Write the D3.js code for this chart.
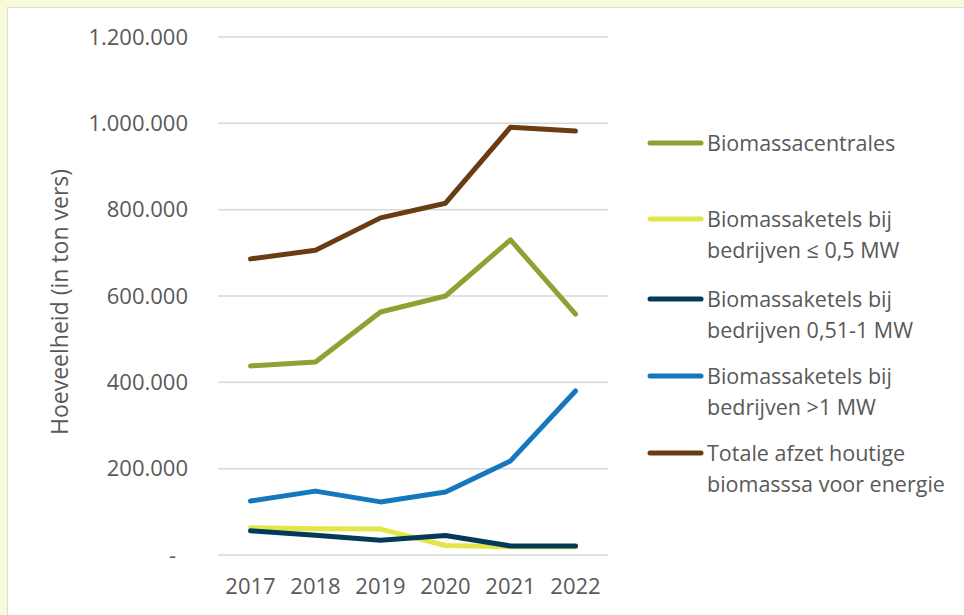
<!DOCTYPE html>
<html>
<head>
<meta charset="utf-8">
<script src="https://cdn.jsdelivr.net/npm/d3@7"></script>
<style>
  body { margin: 0; background: #f9f9dc; }
  text { font-family: "Open Sans", "Noto Sans", sans-serif; fill: #595959; }
</style>
</head>
<body>
<div id="chart"></div>
<script>
const w = 964;
const h = 615;

const years = ["2017", "2018", "2019", "2020", "2021", "2022"];
const yTicks = [0, 200000, 400000, 600000, 800000, 1000000, 1200000];

const centrales = [438000, 447000, 563000, 600000, 730000, 558000];
const ketelsKlein = [63000, 61000, 60000, 22000, 19000, 19000];
const ketelsMidden = [56000, 46000, 34000, 45000, 21000, 21000];
const ketelsGroot = [125000, 148000, 123000, 146000, 218000, 380000];
const totaal = [686000, 706000, 781000, 815000, 991000, 982000];

const seriesNames = [
  ["Biomassacentrales"],
  ["Biomassaketels bij", "bedrijven \u2264 0,5 MW"],
  ["Biomassaketels bij", "bedrijven 0,51-1 MW"],
  ["Biomassaketels bij", "bedrijven >1 MW"],
  ["Totale afzet houtige", "biomasssa voor energie"]
];
const seriesColors = ["#8da232", "#e3e648", "#033a58", "#1578bf", "#693c14"];
const seriesValues = [centrales, ketelsKlein, ketelsMidden, ketelsGroot, totaal];

const series = seriesNames.map((name, i) => ({
  name: name,
  color: seriesColors[i],
  values: seriesValues[i]
}));

const svg = d3.select("#chart").append("svg")
  .attr("width", w).attr("height", h);

// white panel
svg.append("rect")
  .attr("x", 7.5).attr("y", 7.5)
  .attr("width", w + 10).attr("height", h + 10)
  .attr("fill", "#fff")
  .attr("stroke", "#dcdcd0");

const x = d3.scaleBand().domain(years).range([218, 608]);
const y = d3.scaleLinear().domain([0, 1200000]).range([555, 37]);

const fmt = (v) => v === 0 ? "-" : d3.format(",")(v).replace(/,/g, ".");

// gridlines
svg.append("g").selectAll("line")
  .data(yTicks)
  .enter()
  .append("line")
  .attr("x1", 218).attr("x2", 608)
  .attr("y1", (d) => y(d)).attr("y2", (d) => y(d))
  .attr("stroke", "#d9d9d9")
  .attr("stroke-width", 1.5);

// y labels
svg.append("g").selectAll("text")
  .data(yTicks)
  .enter()
  .append("text")
  .attr("x", (d) => d === 0 ? 176 : 188)
  .attr("y", (d) => y(d))
  .attr("dy", "0.35em")
  .attr("text-anchor", "end")
  .style("font-size", "22px")
  .text(fmt);

// x labels
svg.append("g").selectAll("text")
  .data(years)
  .enter()
  .append("text")
  .attr("x", (d) => x(d) + x.bandwidth() / 2)
  .attr("y", 586)
  .attr("dy", "0.35em")
  .attr("text-anchor", "middle")
  .style("font-size", "22px")
  .text((d) => d);

// axis title
svg.append("text")
  .attr("transform", "translate(60,302) rotate(-90)")
  .attr("dy", "0.35em")
  .attr("text-anchor", "middle")
  .style("font-size", "23px")
  .text("Hoeveelheid (in ton vers)");

const line = d3.line()
  .x((d, i) => x(years[i]) + x.bandwidth() / 2)
  .y((d) => y(d));

svg.append("g").selectAll("path")
  .data(series)
  .enter()
  .append("path")
  .attr("d", (d) => line(d.values))
  .attr("fill", "none")
  .attr("stroke", (d) => d.color)
  .attr("stroke-width", 5)
  .attr("stroke-linecap", "round")
  .attr("stroke-linejoin", "round");

// legend
const legendY = [143, 219, 299, 376, 453];
const legend = svg.append("g").selectAll("g")
  .data(series)
  .enter()
  .append("g")
  .attr("transform", (d, i) => `translate(0,${legendY[i]})`);

legend.append("line")
  .attr("x1", 650).attr("x2", 701)
  .attr("y1", 0).attr("y2", 0)
  .attr("stroke", (d) => d.color)
  .attr("stroke-width", 5)
  .attr("stroke-linecap", "round");

legend.each(function(d) {
  const g = d3.select(this);
  d.name.forEach((txt, j) => {
    g.append("text")
      .attr("x", 707)
      .attr("y", j * 31)
      .attr("dy", "0.35em")
      .style("font-size", "21.5px")
      .text(txt);
  });
});
</script>
</body>
</html>
